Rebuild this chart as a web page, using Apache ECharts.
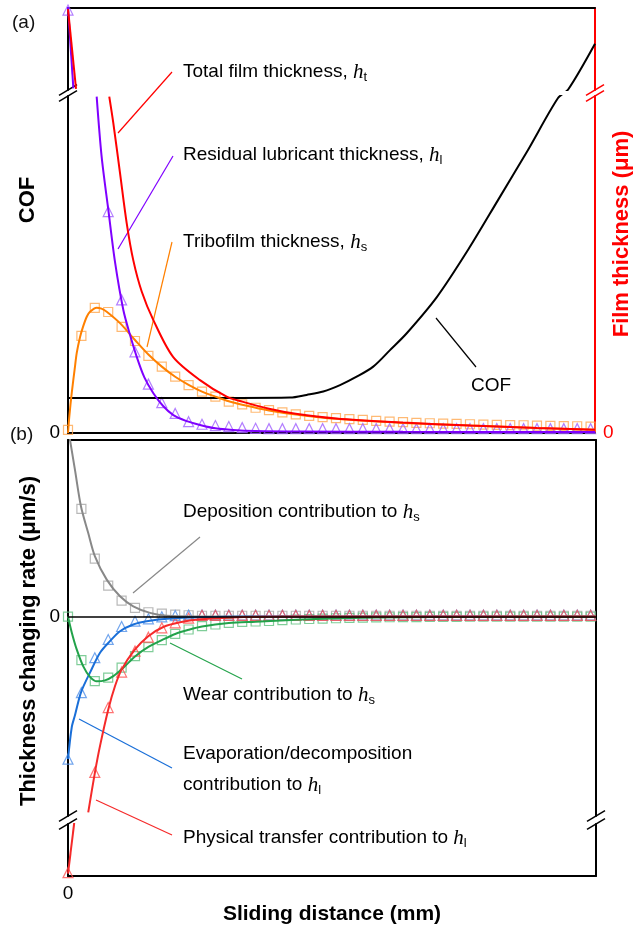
<!DOCTYPE html>
<html>
<head>
<meta charset="utf-8">
<script src="https://cdn.jsdelivr.net/npm/echarts@6/dist/echarts.min.js"></script>
<style>html,body{margin:0;padding:0;background:#fff}#main{width:641px;height:926px}</style>
</head>
<body>
<div id="main"></div>
<script>
// marker positions along the sliding distance (arbitrary units)
var sampleX = [0,1,2,3,4,5,6,7,8,9,10,11,12,13,14,15,16,17,18,19,20,21,22,23,24,25,26,27,28,29,30,31,32,33,34,35,36,37,38,39];

// (a) COF and film thickness
var cofCurve = [[0,0.104],[5,0.104],[10,0.104],[12.84,0.104],[16.57,0.105],[17.81,0.113],[19.05,0.123],[20.3,0.142],[21.54,0.167],[22.78,0.197],[24.03,0.246],[25.28,0.296],[27.54,0.404],[29.85,0.543],[32.09,0.691],[34.33,0.84],[36.57,0.994],[37.34,1.02],[39.33,1.155]];
var totalUpper = [[0,54.5],[0.6,15.5]];
var totalLower = [[3.08,9.98],[3.38,9.2],[3.88,7.72],[4.38,6.23],[4.87,5.13],[5.5,4.2],[6.37,3.35],[7.84,2.26],[9.85,1.57],[11.84,1.08],[13,0.93],[15,0.72],[17,0.57],[20,0.43],[25,0.31],[30,0.22],[35,0.15],[39.33,0.1]];
var residualUpper = [[0,55.5],[0.4,15.8]];
var residualLower = [[2.14,9.98],[2.51,8.2],[3.01,6.62],[3.51,5.07],[4.13,3.65],[4.6,2.95],[5.13,2.26],[5.7,1.65],[6.37,1.18],[7.1,0.8],[7.86,0.53],[8.8,0.36],[9.85,0.24],[11,0.14],[12.31,0.09],[14,0.06],[17.3,0.045],[25,0.035],[39.33,0.03]];
var tribofilmLine = [[0,0],[0.1,0.5],[0.28,1.19],[0.5,1.9],[0.65,2.37],[0.9,2.85],[1.12,3.15],[1.4,3.45],[1.64,3.6],[2.14,3.72],[2.5,3.69],[2.89,3.6],[3.88,3.26],[5,2.76],[6,2.33],[7,1.97],[8,1.67],[9,1.43],[10,1.23],[11,1.08],[12,0.94],[13,0.84],[15,0.67],[17,0.55],[20,0.42],[25,0.3],[30,0.22],[35,0.15],[39.33,0.1]];
var tribofilmPts = [0.09,2.88,3.71,3.59,3.15,2.73,2.29,1.97,1.67,1.42,1.23,1.08,0.93,0.85,0.75,0.68,0.61,0.55,0.51,0.47,0.44,0.41,0.39,0.36,0.34,0.32,0.30,0.29,0.28,0.27,0.26,0.25,0.24,0.235,0.23,0.22,0.21,0.205,0.2,0.19];
var residualPts = [54,null,null,6.57,3.95,2.41,1.45,0.90,0.58,0.335,0.26,0.22,0.19,0.16,0.14,0.13,0.13,0.13,0.13,0.13,0.13,0.13,0.13,0.13,0.13,0.13,0.13,0.13,0.13,0.13,0.13,0.13,0.13,0.13,0.13,0.13,0.13,0.13,0.13,0.13];

// (b) thickness changing rates
var depositionLine = [[0,1.9],[0.15,1.77],[0.52,1.47],[0.97,1.103],[1.51,0.837],[2.01,0.603],[2.89,0.37],[3.88,0.203],[4.87,0.103],[6.12,0.037],[7.37,0.008],[9.85,0.001],[14,0],[39.4,0]];
var depositionPts = [null,1.08,0.58,0.31,0.16,0.087,0.043,0.03,0.02,0.013,0.008,0.008,0.008,0.008,0.008,0.008,0.008,0.008,0.008,0.008,0.008,0.008,0.008,0.008,0.008,0.008,0.008,0.008,0.008,0.008,0.008,0.008,0.008,0.008,0.008,0.008,0.008,0.008,0.008,0.008];
var evaporationLine = [[0,-1.43],[0.28,-1.11],[0.52,-0.99],[0.97,-0.76],[1.64,-0.563],[2.39,-0.363],[3.13,-0.247],[3.88,-0.147],[4.87,-0.08],[5.87,-0.047],[7.37,-0.022],[9.85,-0.006],[14.3,0],[39.4,0]];
var evaporationPts = [-1.43,-0.763,-0.413,-0.23,-0.10,-0.047,-0.023,-0.003,0.01,0.015,0.015,0.015,0.015,0.015,0.015,0.015,0.015,0.015,0.015,0.015,0.015,0.015,0.015,0.015,0.015,0.015,0.015,0.015,0.015,0.015,0.015,0.015,0.015,0.015,0.015,0.015,0.015,0.015,0.015,0.015];
var transferUpper = [[1.51,-1.963],[2.01,-1.563],[2.39,-1.297],[3.01,-0.93],[3.51,-0.697],[4.01,-0.53],[5,-0.33],[5.99,-0.197],[7.11,-0.105],[8.36,-0.058],[9.85,-0.028],[11.84,-0.012],[14.33,-0.003],[20,0],[39.4,0]];
var transferLower = [[0,-9.71],[0.47,-3.8]];
var transferPts = [-9.61,null,-1.563,-0.913,-0.557,-0.347,-0.207,-0.113,-0.063,-0.015,0.012,0.012,0.012,0.012,0.012,0.012,0.012,0.012,0.012,0.012,0.012,0.012,0.012,0.012,0.012,0.012,0.012,0.012,0.012,0.012,0.012,0.012,0.012,0.012,0.012,0.012,0.012,0.012,0.012,0.012];
var wearLine = [[0,0],[0.28,-0.16],[0.65,-0.33],[1.14,-0.5],[1.64,-0.605],[2.14,-0.65],[2.76,-0.64],[3.38,-0.597],[4.13,-0.513],[5,-0.4],[6,-0.305],[7,-0.237],[8,-0.175],[9,-0.133],[10,-0.1],[12,-0.066],[14,-0.052],[17,-0.032],[21,-0.015],[25,-0.008],[30,-0.004],[39.4,-0.001]];
var wearPts = [0,-0.437,-0.647,-0.613,-0.513,-0.397,-0.307,-0.237,-0.173,-0.13,-0.097,-0.08,-0.063,-0.053,-0.05,-0.045,-0.037,-0.03,-0.025,-0.02,-0.017,-0.013,-0.01,-0.008,-0.007,-0.006,-0.005,-0.004,-0.003,-0.003,-0.002,-0.002,-0.002,-0.002,-0.002,-0.002,-0.002,-0.002,-0.002,-0.002];

var FONT = 'Liberation Sans, Arial, sans-serif';

function pts(ys) {
  var out = [];
  sampleX.forEach(function (x, i) { if (ys[i] != null) out.push([x, ys[i]]); });
  return out;
}

function xAx(grid, pos, max, color) {
  return {
    type: 'value', gridIndex: grid, position: pos, min: 0, max: max,
    axisLine: { show: true, onZero: false, lineStyle: { color: color || '#000', width: 2 } },
    axisTick: { show: false }, axisLabel: { show: false }, splitLine: { show: false }
  };
}
function yAx(grid, pos, min, max, color) {
  return {
    type: 'value', gridIndex: grid, position: pos, min: min, max: max,
    axisLine: { show: true, onZero: false, lineStyle: { color: color || '#000', width: 2 } },
    axisTick: { show: false }, axisLabel: { show: false }, splitLine: { show: false }
  };
}
function zeroLabel(ax, color, interval) {
  ax.interval = interval;
  ax.axisLabel = {
    show: true, color: color, fontSize: 19, fontFamily: FONT, margin: 8,
    formatter: function (v) { return v === 0 ? '0' : ''; }
  };
  return ax;
}
function line(name, x, y, data, color) {
  return {
    name: name, type: 'line', xAxisIndex: x, yAxisIndex: y, data: data,
    showSymbol: false, symbol: 'none', smooth: 0.3,
    lineStyle: { color: color, width: 2 }, z: 3, silent: true
  };
}
function marks(name, x, y, ys, symbol, color, size) {
  return {
    name: name, type: 'scatter', xAxisIndex: x, yAxisIndex: y, data: pts(ys),
    symbol: symbol, symbolSize: size, clip: true,
    itemStyle: { color: 'rgba(0,0,0,0)', borderColor: color, borderWidth: 1.2 }, z: 2, silent: true
  };
}

var yA2left = zeroLabel(yAx(1, 'left', 0, 1), '#000', 0.5);
var yA2right = zeroLabel(yAx(1, 'right', 0, 10, '#ff0000'), '#ff0000', 5);
var yB1left = zeroLabel(yAx(2, 'left', -2, 1.77), '#000', 0.5);
var xB2 = zeroLabel(xAx(3, 'bottom', 39.4), '#000', 10);
xB2.name = 'Sliding distance (mm)';
xB2.nameLocation = 'middle';
xB2.nameGap = 24;
xB2.nameTextStyle = { fontSize: 21, fontWeight: 'bold', fontFamily: FONT, color: '#000' };

var rich = {
  n: { fontFamily: FONT, fontSize: 19, color: '#111', lineHeight: 24 },
  h: { fontFamily: 'Liberation Serif', fontStyle: 'italic', fontSize: 21, color: '#111', lineHeight: 24 },
  s: { fontFamily: FONT, fontSize: 13, color: '#111', lineHeight: 16, verticalAlign: 'bottom' }
};
function note(x, y, text) {
  return { type: 'text', x: x, y: y, silent: true,
    style: { text: text, rich: rich, textAlign: 'left', textVerticalAlign: 'middle' } };
}
function leader(x1, y1, x2, y2, color) {
  return { type: 'line', silent: true, shape: { x1: x1, y1: y1, x2: x2, y2: y2 },
    style: { stroke: color, lineWidth: 1.2 } };
}
function breakMark(ax, gt, gb, color) {
  return [gt, gb].map(function (yy) {
    return { type: 'line', silent: true, shape: { x1: ax - 9, y1: yy + 5.4, x2: ax + 9, y2: yy - 5.4 },
      style: { stroke: color, lineWidth: 1.5 } };
  });
}
function title(x, y, text, color) {
  return { type: 'text', x: x, y: y, rotation: Math.PI / 2, silent: true,
    style: { text: text, fill: color, font: 'bold 22px ' + FONT, textAlign: 'center', textVerticalAlign: 'middle' } };
}

var graphics = [
  { type: 'text', x: 12, y: 23, style: { text: '(a)', fill: '#111', font: '19px ' + FONT, textVerticalAlign: 'middle' } },
  { type: 'text', x: 10, y: 435, style: { text: '(b)', fill: '#111', font: '19px ' + FONT, textVerticalAlign: 'middle' } },
  title(28, 200, 'COF', '#000'),
  title(622, 234, 'Film thickness (μm)', '#ff0000'),
  title(29, 641, 'Thickness changing rate (μm/s)', '#000'),
  note(183, 72, '{n|Total film thickness, }{h|h}{s|t}'),
  note(183, 155, '{n|Residual lubricant thickness, }{h|h}{s|l}'),
  note(183, 242, '{n|Tribofilm thickness, }{h|h}{s|s}'),
  note(471, 386, '{n|COF}'),
  note(183, 512, '{n|Deposition contribution to }{h|h}{s|s}'),
  note(183, 695, '{n|Wear contribution to }{h|h}{s|s}'),
  note(183, 754, '{n|Evaporation/decomposition}'),
  note(183, 785, '{n|contribution to }{h|h}{s|l}'),
  note(183, 838, '{n|Physical transfer contribution to }{h|h}{s|l}'),
  leader(172, 72, 118, 133, '#ff0000'),
  leader(173, 156, 118, 249, '#7f00ff'),
  leader(172, 242, 147, 347, '#ff8000'),
  leader(436, 318, 476, 367, '#000'),
  leader(133, 593, 200, 537, '#888888'),
  leader(170, 643, 242, 679, '#22a24a'),
  leader(79, 719, 172, 768, '#1a6fd8'),
  leader(96, 800, 172, 835, '#f52a2a')
].concat(breakMark(68, 90, 96, '#000'), breakMark(595, 90, 96, '#ff0000'),
         breakMark(68, 816, 824, '#000'), breakMark(596, 816, 824, '#000'));

var chart = echarts.init(document.getElementById('main'), null, { renderer: 'canvas' });
chart.setOption({
  animation: false,
  backgroundColor: '#fff',
  grid: [
    { left: 68, top: 8, width: 527, height: 82 },
    { left: 68, top: 96, width: 527, height: 337 },
    { left: 68, top: 440, width: 528, height: 376 },
    { left: 68, top: 824, width: 528, height: 62 }
  ],
  xAxis: [xAx(0, 'top', 39.33), xAx(1, 'bottom', 39.33), xAx(2, 'top', 39.4), xB2],
  yAxis: [
    yAx(0, 'left', 1.0178, 1.2611), yAx(0, 'right', 15, 55, '#ff0000'),
    yA2left, yA2right,
    yB1left, yAx(2, 'right', -2, 1.77),
    yAx(3, 'left', -10, -4), yAx(3, 'right', -10, -4)
  ],
  series: [
    // (a) upper segment
    line('COF', 0, 0, cofCurve, '#000'),
    line('Residual lubricant thickness', 0, 1, residualUpper, '#7f00ff'),
    line('Total film thickness', 0, 1, totalUpper, '#ff0000'),
    marks('Residual lubricant (sim.)', 0, 1, residualPts, 'triangle', '#a060ff', 10),
    // (a) lower segment
    line('COF', 1, 2, cofCurve, '#000'),
    line('Tribofilm thickness', 1, 3, tribofilmLine, '#ff8000'),
    line('Residual lubricant thickness', 1, 3, residualLower, '#7f00ff'),
    line('Total film thickness', 1, 3, totalLower, '#ff0000'),
    marks('Tribofilm (sim.)', 1, 3, tribofilmPts, 'rect', '#ffa850', 9),
    marks('Residual lubricant (sim.)', 1, 3, residualPts, 'triangle', '#a060ff', 10),
    // (b) upper segment
    Object.assign(line('Deposition', 2, 4, depositionLine, '#888888'), {
      markLine: { silent: true, symbol: 'none', label: { show: false },
        lineStyle: { color: '#000', width: 1.5, type: 'solid' }, data: [{ yAxis: 0 }] }
    }),
    line('Evaporation/decomposition', 2, 4, evaporationLine, '#1a6fd8'),
    line('Wear', 2, 4, wearLine, '#22a24a'),
    line('Physical transfer', 2, 4, transferUpper, '#f52a2a'),
    marks('Deposition (sim.)', 2, 4, depositionPts, 'rect', '#a6a6a6', 9),
    marks('Wear (sim.)', 2, 4, wearPts, 'rect', '#60c080', 9),
    marks('Evaporation (sim.)', 2, 4, evaporationPts, 'triangle', '#5090e8', 10),
    marks('Physical transfer (sim.)', 2, 4, transferPts, 'triangle', '#ff5050', 10),
    // (b) lower segment
    line('Physical transfer', 3, 6, transferLower, '#f52a2a'),
    marks('Physical transfer (sim.)', 3, 6, transferPts, 'triangle', '#ff5050', 10)
  ],
  graphic: graphics
});
</script>
</body>
</html>
